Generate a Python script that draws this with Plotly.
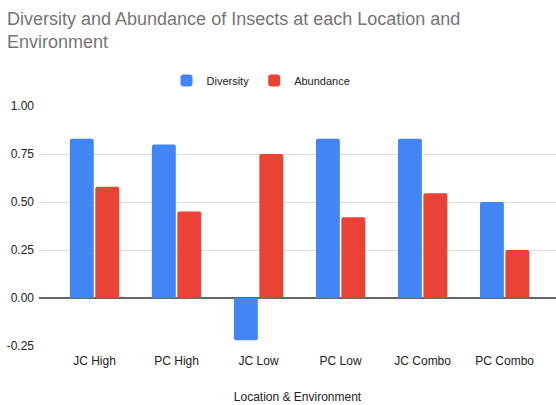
import plotly.graph_objects as go

categories = ["JC High", "PC High", "JC Low", "PC Low", "JC Combo", "PC Combo"]
diversity = [0.83, 0.80, -0.22, 0.83, 0.83, 0.50]
abundance = [0.58, 0.45, 0.75, 0.42, 0.545, 0.25]
y_ticks = [-0.25, 0.0, 0.25, 0.5, 0.75, 1.0]
y_tick_labels = ["-0.25", "0.00", "0.25", "0.50", "0.75", "1.00"]

fig = go.Figure()
fig.add_trace(go.Bar(name="Diversity", x=categories, y=diversity,
                     marker=dict(color="#4285F4", cornerradius=2, line=dict(width=0))))
fig.add_trace(go.Bar(name="Abundance", x=categories, y=abundance,
                     marker=dict(color="#EA4335", cornerradius=2, line=dict(width=0))))

fig.update_layout(
    width=556, height=405,
    margin=dict(l=39, r=0, t=106, b=59, autoexpand=False),
    paper_bgcolor="white", plot_bgcolor="white",
    font=dict(family="Liberation Sans, Arial, sans-serif", size=12, color="#222222"),
    title=dict(text="Diversity and Abundance of Insects at each Location and<br>Environment",
               x=7/556, xref="container", xanchor="left",
               y=1 - 25/405, yref="container", yanchor="top",
               font=dict(size=18, color="#757575")),
    barmode="group", bargap=0.38, bargroupgap=0.06,
    showlegend=True,
    legend=dict(orientation="h", x=261/556, xref="container", xanchor="center",
                y=1 - 66/405, yref="container", yanchor="top",
                font=dict(size=11, color="#222222"), itemwidth=30),
    xaxis=dict(type="category", range=[-0.677, 5.626], showgrid=False,
               showline=False, ticks="", tickfont=dict(size=12), ticklabelstandoff=6,
               title=dict(text="Location & Environment", font=dict(size=12), standoff=25)),
    yaxis=dict(range=[-0.25, 1.0], tickvals=y_ticks, ticktext=y_tick_labels,
               showgrid=True, gridcolor="#dddddd", gridwidth=1,
               zeroline=True, zerolinecolor="#666666", zerolinewidth=1.5,
               showline=False, ticks="", tickfont=dict(size=12), ticklabelstandoff=4),
)

fig.write_html("out.html", config={"displayModeBar": False},
               post_script="document.body.style.margin='0px';")
